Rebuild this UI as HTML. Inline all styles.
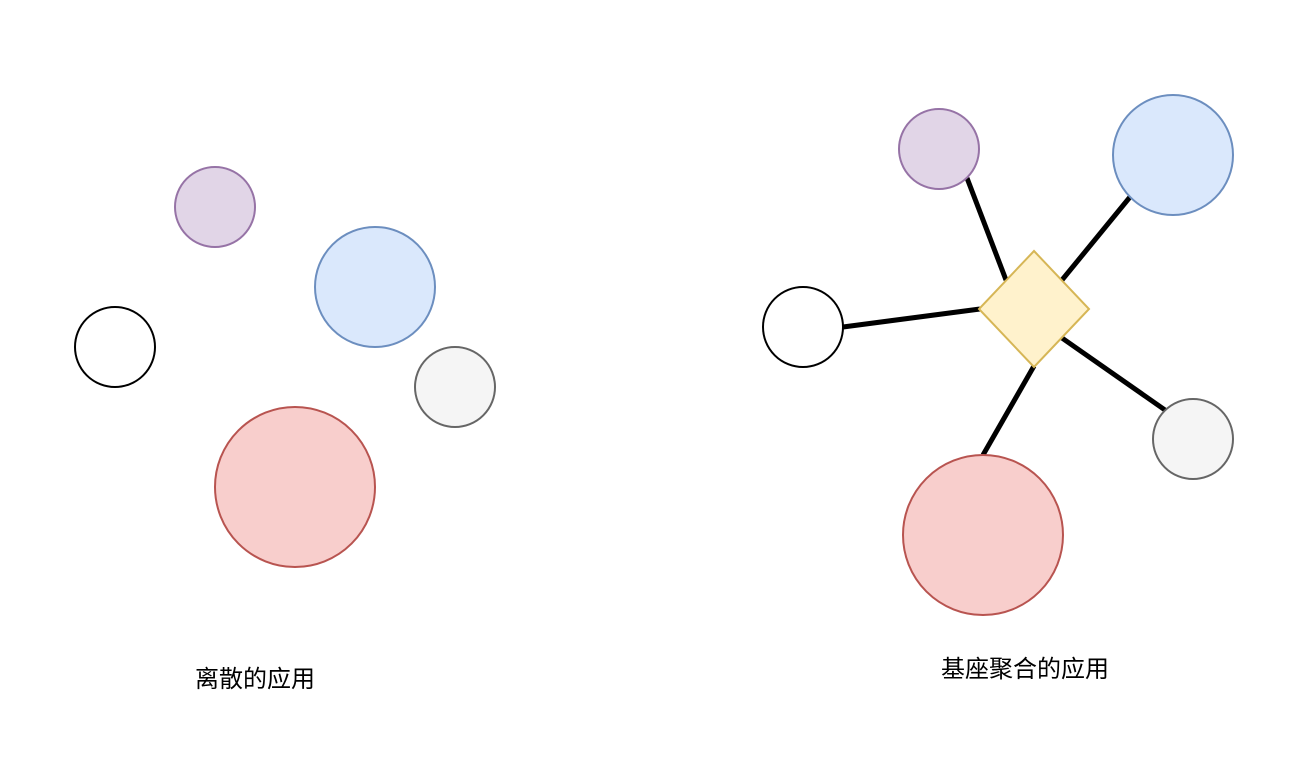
<!DOCTYPE html>
<html><head><meta charset="utf-8"><style>
html,body{margin:0;padding:0;background:#fff;width:1312px;height:776px;overflow:hidden}
svg{display:block}
text{font-family:"Liberation Sans","Noto Sans CJK SC",sans-serif;font-size:24px;fill:#000}
</style></head><body>
<svg width="1312" height="776" viewBox="0 0 1312 776">
<g stroke-width="2">
<circle cx="215" cy="207" r="40" fill="#e1d5e7" stroke="#9673a6"/>
<circle cx="375" cy="287" r="60" fill="#dae8fc" stroke="#6c8ebf"/>
<circle cx="115" cy="347" r="40" fill="#fff" stroke="#000"/>
<circle cx="455" cy="387" r="40" fill="#f5f5f5" stroke="#666"/>
<circle cx="295" cy="487" r="80" fill="#f8cecc" stroke="#b85450"/>
</g>
<text x="255" y="687" text-anchor="middle">离散的应用</text>
<g stroke="#000" stroke-width="5" stroke-linecap="butt">
<line x1="843" y1="327" x2="980" y2="309"/>
<line x1="967" y1="178" x2="1006" y2="280"/>
<line x1="1130" y1="197" x2="1062" y2="280"/>
<line x1="1062" y1="338" x2="1165" y2="410"/>
<line x1="1034" y1="366" x2="983" y2="455"/>
</g>
<g stroke-width="2">
<circle cx="939" cy="149" r="40" fill="#e1d5e7" stroke="#9673a6"/>
<circle cx="1173" cy="155" r="60" fill="#dae8fc" stroke="#6c8ebf"/>
<circle cx="803" cy="327" r="40" fill="#fff" stroke="#000"/>
<circle cx="1193" cy="439" r="40" fill="#f5f5f5" stroke="#666"/>
<circle cx="983" cy="535" r="80" fill="#f8cecc" stroke="#b85450"/>
<polygon points="1034,251 1089,309 1034,367 979,309" fill="#fff2cc" stroke="#d6b656"/>
</g>
<text x="1025" y="677" text-anchor="middle">基座聚合的应用</text>
</svg>
</body></html>
